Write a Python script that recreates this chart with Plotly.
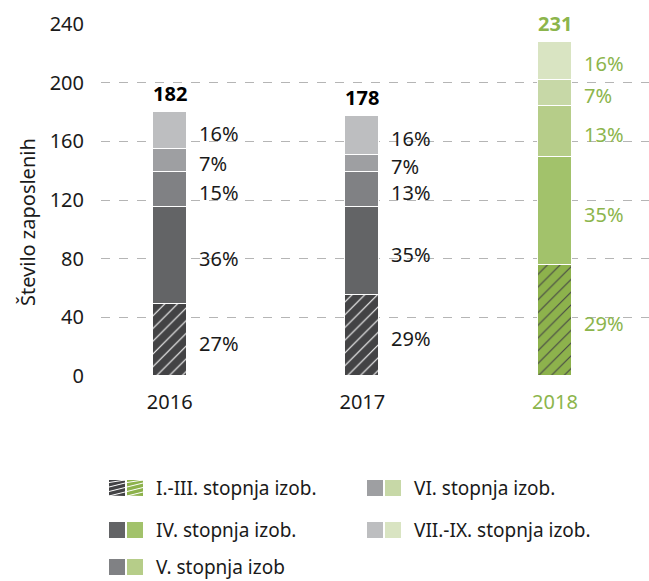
import plotly.graph_objects as go

years = ["2016", "2017", "2018"]
totals = [182, 178, 231]
levels = ["I.-III. stopnja izob.", "IV. stopnja izob.", "V. stopnja izob",
          "VI. stopnja izob.", "VII.-IX. stopnja izob."]
# counts per level (bottom to top) for 2016, 2017, 2018
lvl_1_3 = [49, 55, 76]
lvl_4 = [66, 60, 73]
lvl_5 = [24, 24, 35]
lvl_6 = [16, 12, 18]
lvl_7_9 = [25, 26, 26]
pct_labels = [
    ["27%", "29%", "29%"],
    ["36%", "35%", "35%"],
    ["15%", "13%", "13%"],
    ["7%", "7%", "7%"],
    ["16%", "16%", "16%"],
]
series = [lvl_1_3, lvl_4, lvl_5, lvl_6, lvl_7_9]

gray = ["#434345", "#636466", "#808184", "#9e9fa2", "#bdbec0"]
green = ["#8db24c", "#a2c26b", "#b6cd89", "#c7d8a7", "#d9e4c2"]
text_dark = "#1a1a1a"
text_green = "#8cb54c"
FONT = "Noto Sans"
FS = 20

xs = list(range(len(years)))
fig = go.Figure()
for i, (name, vals) in enumerate(zip(levels, series)):
    cols = [gray[i], gray[i], green[i]]
    marker = dict(color=cols, line=dict(color="white", width=1.5))
    if i == 0:
        marker["pattern"] = dict(shape="/", fgcolor="white", fgopacity=1,
                                 size=9, solidity=0.12, fillmode="overlay")
    fig.add_trace(go.Bar(x=xs, y=vals, name=name, marker=marker, width=0.175,
                         showlegend=False, hoverinfo="skip"))

annotations = []
# segment percentage labels
for j in xs:
    base = 0
    for i, vals in enumerate(series):
        mid = base + vals[j] / 2
        base += vals[j]
        annotations.append(dict(x=j, y=mid, xref="x", yref="y", text=pct_labels[i][j],
                                showarrow=False, xanchor="left", yanchor="middle",
                                xshift=27, yshift=-3,
                                font=dict(family=FONT, size=FS,
                                          color=text_green if j == 2 else text_dark)))
    annotations.append(dict(x=j, y=base, xref="x", yref="y", text="<b>%d</b>" % totals[j],
                            showarrow=False, xanchor="center", yanchor="bottom", yshift=3,
                            font=dict(family=FONT, size=FS,
                                      color=text_green if j == 2 else "#000000")))

# plot area geometry in pixels (for legend placement)
L, R, T, B = 101, 649, 24, 376
def px(xp):
    return (xp - L) / (R - L)
def py(yp):
    return (B - yp) / (B - T)

annotations.append(dict(x=px(27), y=py(222), xref="paper", yref="paper",
                        text="Število zaposlenih", textangle=-90, showarrow=False,
                        xanchor="center", yanchor="middle",
                        font=dict(family=FONT, size=20, color=text_dark)))

shapes = []
legend_pos = [(109, 488), (109, 530), (109, 567), (367, 488), (367, 530)]
for i, (lx, ly) in enumerate(legend_pos):
    for k, c in enumerate([gray[i], green[i]]):
        x0 = lx + k * 18
        shapes.append(dict(type="rect", xref="paper", yref="paper",
                           x0=px(x0), x1=px(x0 + 16), y0=py(ly + 8), y1=py(ly - 8),
                           fillcolor=c, line=dict(width=0), layer="above"))
        if i == 0:
            for s in range(-1, 5):
                yy = ly + 8 - s * 4.5
                shapes.append(dict(type="line", xref="paper", yref="paper",
                                   x0=px(x0), x1=px(x0 + 16),
                                   y0=py(min(yy, ly + 8)), y1=py(max(yy - 4, ly - 8)),
                                   line=dict(color="white", width=1), layer="above"))
    annotations.append(dict(x=px(lx + 46), y=py(ly), xref="paper", yref="paper",
                            text=levels[i], showarrow=False, xanchor="left", yanchor="middle",
                            borderpad=0,
                            font=dict(family=FONT, size=19, color=text_dark)))

tick_text = [y if k < 2 else "<span style='color:%s'>%s</span>" % (text_green, y)
             for k, y in enumerate(years)]

fig.update_layout(
    width=649, height=581,
    margin=dict(l=L, r=649 - R, t=T, b=581 - B),
    paper_bgcolor="white", plot_bgcolor="white",
    barmode="stack", bargap=0,
    showlegend=False,
    font=dict(family=FONT, size=FS, color=text_dark),
    xaxis=dict(range=[-0.3566, 2.488], tickmode="array", tickvals=xs, ticktext=tick_text,
               showgrid=False, zeroline=False, showline=False, ticks="",
               ticklabelstandoff=12, tickfont=dict(size=FS, color=text_dark)),
    yaxis=dict(range=[0, 240], tickmode="array", tickvals=[0, 40, 80, 120, 160, 200, 240],
               showgrid=True, gridcolor="#b5b5b5", griddash="dash", gridwidth=1,
               zeroline=False, showline=False, ticks="", ticklabelstandoff=16,
               tickfont=dict(size=FS, color=text_dark)),
    annotations=annotations,
    shapes=shapes,
)
fig.write_html("out.html", config={"displayModeBar": False},
               post_script="document.body.style.margin='0';")
